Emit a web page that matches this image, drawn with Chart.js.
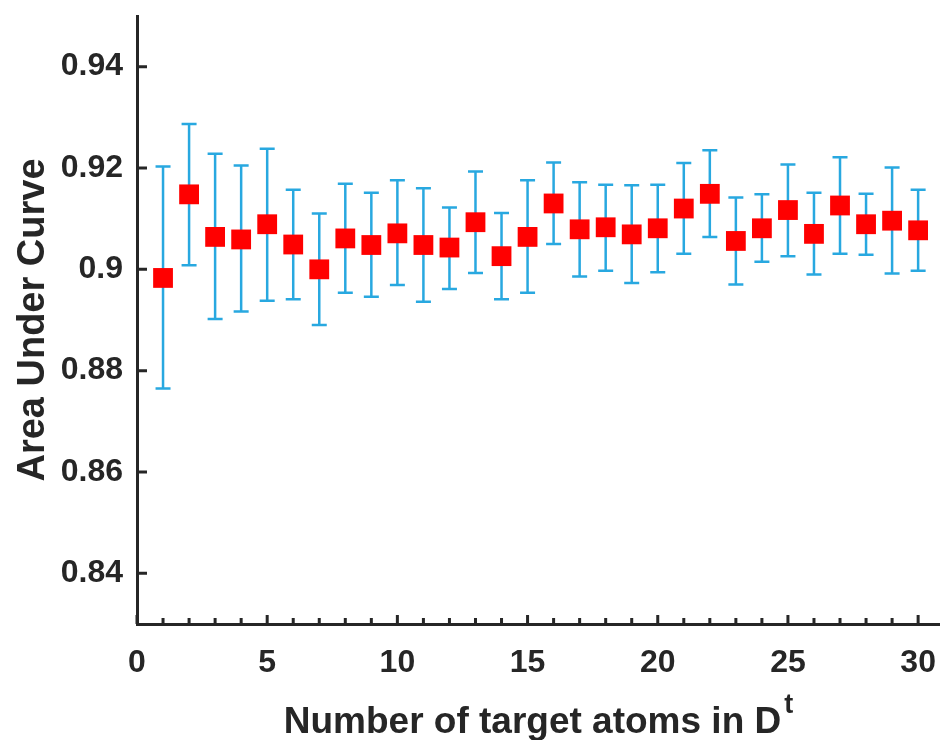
<!DOCTYPE html>
<html>
<head>
<meta charset="utf-8">
<title>Area Under Curve vs target atoms</title>
<script src="https://cdn.jsdelivr.net/npm/chart.js@4.4.1/dist/chart.umd.min.js"></script>
<style>
  html, body { margin: 0; padding: 0; background: #fff; overflow: hidden; }
  #wrap { width: 940px; height: 740px; position: relative; }
</style>
</head>
<body>
<div id="wrap"><canvas id="aucChart"></canvas></div>
<script>
// ===== Datos =====
const ATOMS = [1,2,3,4,5,6,7,8,9,10,11,12,13,14,15,16,17,18,19,20,21,22,23,24,25,26,27,28,29,30];
const AUC_MEAN = [0.8983, 0.9148, 0.9064, 0.9059, 0.9089, 0.9049, 0.9000, 0.9061, 0.9048, 0.9071,
                  0.9048, 0.9043, 0.9093, 0.9026, 0.9064, 0.9130, 0.9079, 0.9083, 0.9069, 0.9081,
                  0.9120, 0.9149, 0.9056, 0.9081, 0.9117, 0.9070, 0.9126, 0.9089, 0.9096, 0.9077];
const AUC_UPPER = [0.9203, 0.9287, 0.9228, 0.9205, 0.9238, 0.9157, 0.9110, 0.9169, 0.9151, 0.9176,
                   0.9160, 0.9122, 0.9193, 0.9111, 0.9176, 0.9211, 0.9172, 0.9167, 0.9166, 0.9167,
                   0.9210, 0.9235, 0.9142, 0.9148, 0.9207, 0.9151, 0.9221, 0.9149, 0.9201, 0.9157];
const AUC_LOWER = [0.8765, 0.9008, 0.8902, 0.8917, 0.8938, 0.8941, 0.8890, 0.8954, 0.8946, 0.8969,
                   0.8936, 0.8961, 0.8993, 0.8941, 0.8954, 0.9050, 0.8986, 0.8997, 0.8973, 0.8994,
                   0.9031, 0.9064, 0.8970, 0.9015, 0.9026, 0.8990, 0.9031, 0.9029, 0.8992, 0.8997];
const X_TICKS = [0, 5, 10, 15, 20, 25, 30];
const Y_TICKS = [0.84, 0.86, 0.88, 0.9, 0.92, 0.94];
const X_TITLE = 'Number of target atoms in D';
const X_TITLE_SUP = 't';
const Y_TITLE = 'Area Under Curve';

// ===== Estilos =====
const FONT = '"Liberation Sans", Arial, Helvetica, sans-serif';
const INK = '#262626';
const ERR_COLOR = 'rgb(40, 168, 224)';
const MARK_COLOR = '#ff0000';

// barras de error (debajo de los marcadores)
const errorBars = {
  id: 'errorBars',
  beforeDatasetsDraw(chart){
    const { ctx, scales: { x, y } } = chart;
    ctx.save();
    ctx.strokeStyle = ERR_COLOR;
    ctx.lineWidth = 2.5;
    const cap = 7.5;
    ATOMS.forEach((a, i) => {
      const px = x.getPixelForValue(a);
      const top = y.getPixelForValue(AUC_UPPER[i]);
      const bot = y.getPixelForValue(AUC_LOWER[i]);
      ctx.beginPath();
      ctx.moveTo(px, top); ctx.lineTo(px, bot);
      ctx.moveTo(px - cap, top); ctx.lineTo(px + cap, top);
      ctx.moveTo(px - cap, bot); ctx.lineTo(px + cap, bot);
      ctx.stroke();
    });
    ctx.restore();
  }
};

// ticks hacia dentro + títulos de ejes (con superíndice)
const axisDecor = {
  id: 'axisDecor',
  afterDraw(chart){
    const { ctx, chartArea: ca, scales: { x, y } } = chart;
    ctx.save();
    ctx.strokeStyle = INK;
    ctx.lineWidth = 3;
    ctx.beginPath();
    Y_TICKS.forEach(v => {
      const py = y.getPixelForValue(v);
      ctx.moveTo(ca.left, py); ctx.lineTo(ca.left + 10, py);
    });
    for (let v = 0; v <= 30; v++) {
      const px = x.getPixelForValue(v);
      const len = X_TICKS.includes(v) ? 9 : 6;
      ctx.moveTo(px, ca.bottom); ctx.lineTo(px, ca.bottom - len);
    }
    ctx.stroke();

    ctx.fillStyle = INK;
    // título eje X
    ctx.font = 'bold 37px ' + FONT;
    ctx.textBaseline = 'alphabetic';
    const mainW = ctx.measureText(X_TITLE).width;
    ctx.font = 'bold 27px ' + FONT;
    const supW = ctx.measureText(X_TITLE_SUP).width;
    const cx = (ca.left + ca.right) / 2;
    const x0 = cx - (mainW + supW + 3) / 2;
    ctx.font = 'bold 37px ' + FONT;
    ctx.textAlign = 'left';
    ctx.fillText(X_TITLE, x0, 733);
    ctx.font = 'bold 27px ' + FONT;
    ctx.fillText(X_TITLE_SUP, x0 + mainW + 3, 713);

    // título eje Y
    ctx.translate(44, (ca.top + ca.bottom) / 2);
    ctx.rotate(-Math.PI / 2);
    ctx.font = 'bold 38px ' + FONT;
    ctx.textAlign = 'center';
    ctx.fillText(Y_TITLE, 0, 0);
    ctx.restore();
  }
};

new Chart(document.getElementById('aucChart'), {
  type: 'scatter',
  data: {
    datasets: [{
      data: ATOMS.map((a, i) => ({ x: a, y: AUC_MEAN[i] })),
      pointStyle: 'rect',
      pointRadius: 14,
      pointHoverRadius: 14,
      backgroundColor: MARK_COLOR,
      borderColor: MARK_COLOR,
      borderWidth: 0,
      showLine: false
    }]
  },
  options: {
    responsive: true,
    maintainAspectRatio: false,
    animation: false,
    layout: { autoPadding: false, padding: { top: 16, right: 0, left: 0, bottom: 0 } },
    plugins: { legend: { display: false }, tooltip: { enabled: false } },
    scales: {
      x: {
        type: 'linear',
        min: 0,
        max: 30.84,
        afterBuildTicks: (s) => { s.ticks = X_TICKS.map(v => ({ value: v })); },
        afterFit: (s) => { s.height = 116; s.paddingLeft = 0; s.paddingRight = 0; },
        grid: { display: false, drawTicks: false },
        border: { display: true, color: INK, width: 3 },
        ticks: {
          padding: 20,
          color: INK,
          font: { family: FONT, size: 32, weight: 'bold' },
          maxRotation: 0,
          callback: (v) => String(v)
        }
      },
      y: {
        type: 'linear',
        min: 0.83,
        max: 0.95,
        afterBuildTicks: (s) => { s.ticks = Y_TICKS.map(v => ({ value: v })); },
        afterFit: (s) => { s.width = 137; s.paddingTop = 0; s.paddingBottom = 0; },
        grid: { display: false, drawTicks: false },
        border: { display: true, color: INK, width: 3 },
        ticks: {
          padding: 14,
          color: INK,
          font: { family: FONT, size: 32, weight: 'bold' },
          callback: (v) => String(Number(v.toFixed(2)))
        }
      }
    }
  },
  plugins: [errorBars, axisDecor]
});
</script>
</body>
</html>
